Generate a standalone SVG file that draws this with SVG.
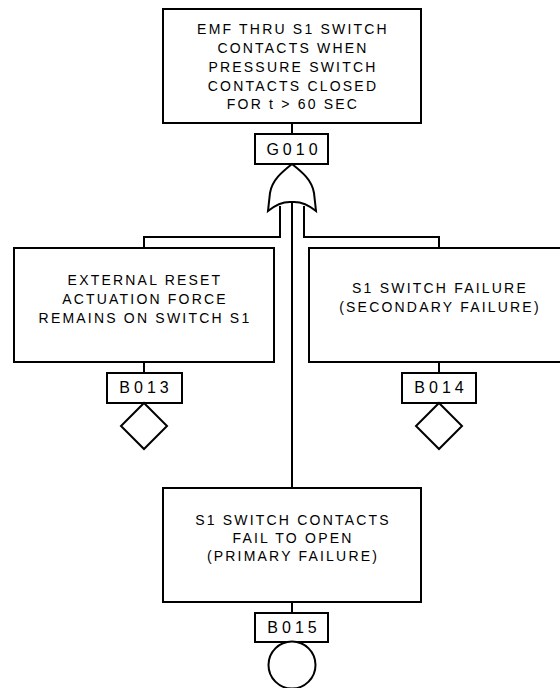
<svg xmlns="http://www.w3.org/2000/svg" width="560" height="688" viewBox="0 0 560 688">
<style>
.box{fill:#fff;stroke:#000;stroke-width:2}
.ln{fill:none;stroke:#000;stroke-width:2}
.t{font-family:"Liberation Sans",Arial,sans-serif;font-size:14px;letter-spacing:2.2px;fill:#000;text-anchor:middle}
.lb{font-family:"Liberation Sans",Arial,sans-serif;font-size:16px;letter-spacing:4px;fill:#000;text-anchor:middle}
</style>
<rect width="560" height="688" fill="#fff"/>
<g id="connectors">
<line class="ln" x1="292" y1="123" x2="292" y2="134"/>
<path class="ln" d="M280,206 V237 H144 V248"/>
<path class="ln" d="M304,206 V237 H439 V248"/>
<line class="ln" x1="292" y1="202" x2="292" y2="488"/>
<line class="ln" x1="144" y1="362" x2="144" y2="373"/>
<line class="ln" x1="439" y1="362" x2="439" y2="373"/>
<line class="ln" x1="292" y1="602" x2="292" y2="613"/>
</g>
<g id="G010">
<rect class="box" x="163" y="9" width="258" height="114"/>
<text class="t" x="293" y="34">EMF THRU S1 SWITCH</text>
<text class="t" x="293" y="53">CONTACTS WHEN</text>
<text class="t" x="293" y="72">PRESSURE SWITCH</text>
<text class="t" x="293" y="91">CONTACTS CLOSED</text>
<text class="t" x="293" y="109">FOR t &gt; 60 SEC</text>
<rect class="box" x="255" y="134" width="73" height="30"/>
<text class="lb" x="294" y="155">G010</text>
<path class="box" d="M292,164 C282,172 272,180 270,193 L268,211 Q280,201 292,202 Q304,201 316,211 L314,193 C312,180 302,172 292,164 Z"/>
</g>
<g id="B013">
<rect class="box" x="14" y="248" width="260" height="114"/>
<text class="t" x="145" y="285">EXTERNAL RESET</text>
<text class="t" x="145" y="304">ACTUATION FORCE</text>
<text class="t" x="145" y="323">REMAINS ON SWITCH S1</text>
<rect class="box" x="107" y="373" width="75" height="30"/>
<text class="lb" x="146" y="393">B013</text>
<path class="box" d="M144,403 L167,426 L144,449 L121,426 Z"/>
</g>
<g id="B014">
<rect class="box" x="309" y="248" width="262" height="114"/>
<text class="t" x="440" y="293">S1 SWITCH FAILURE</text>
<text class="t" x="440" y="312">(SECONDARY FAILURE)</text>
<rect class="box" x="402" y="373" width="74" height="30"/>
<text class="lb" x="441" y="393">B014</text>
<path class="box" d="M439,403 L462,426 L439,449 L416,426 Z"/>
</g>
<g id="B015">
<rect class="box" x="163" y="488" width="258" height="114"/>
<text class="t" x="293" y="525">S1 SWITCH CONTACTS</text>
<text class="t" x="293" y="543">FAIL TO OPEN</text>
<text class="t" x="293" y="561">(PRIMARY FAILURE)</text>
<rect class="box" x="255" y="613" width="73" height="29"/>
<text class="lb" x="294" y="633">B015</text>
<circle class="box" cx="292" cy="665" r="23.5"/>
</g>
</svg>
